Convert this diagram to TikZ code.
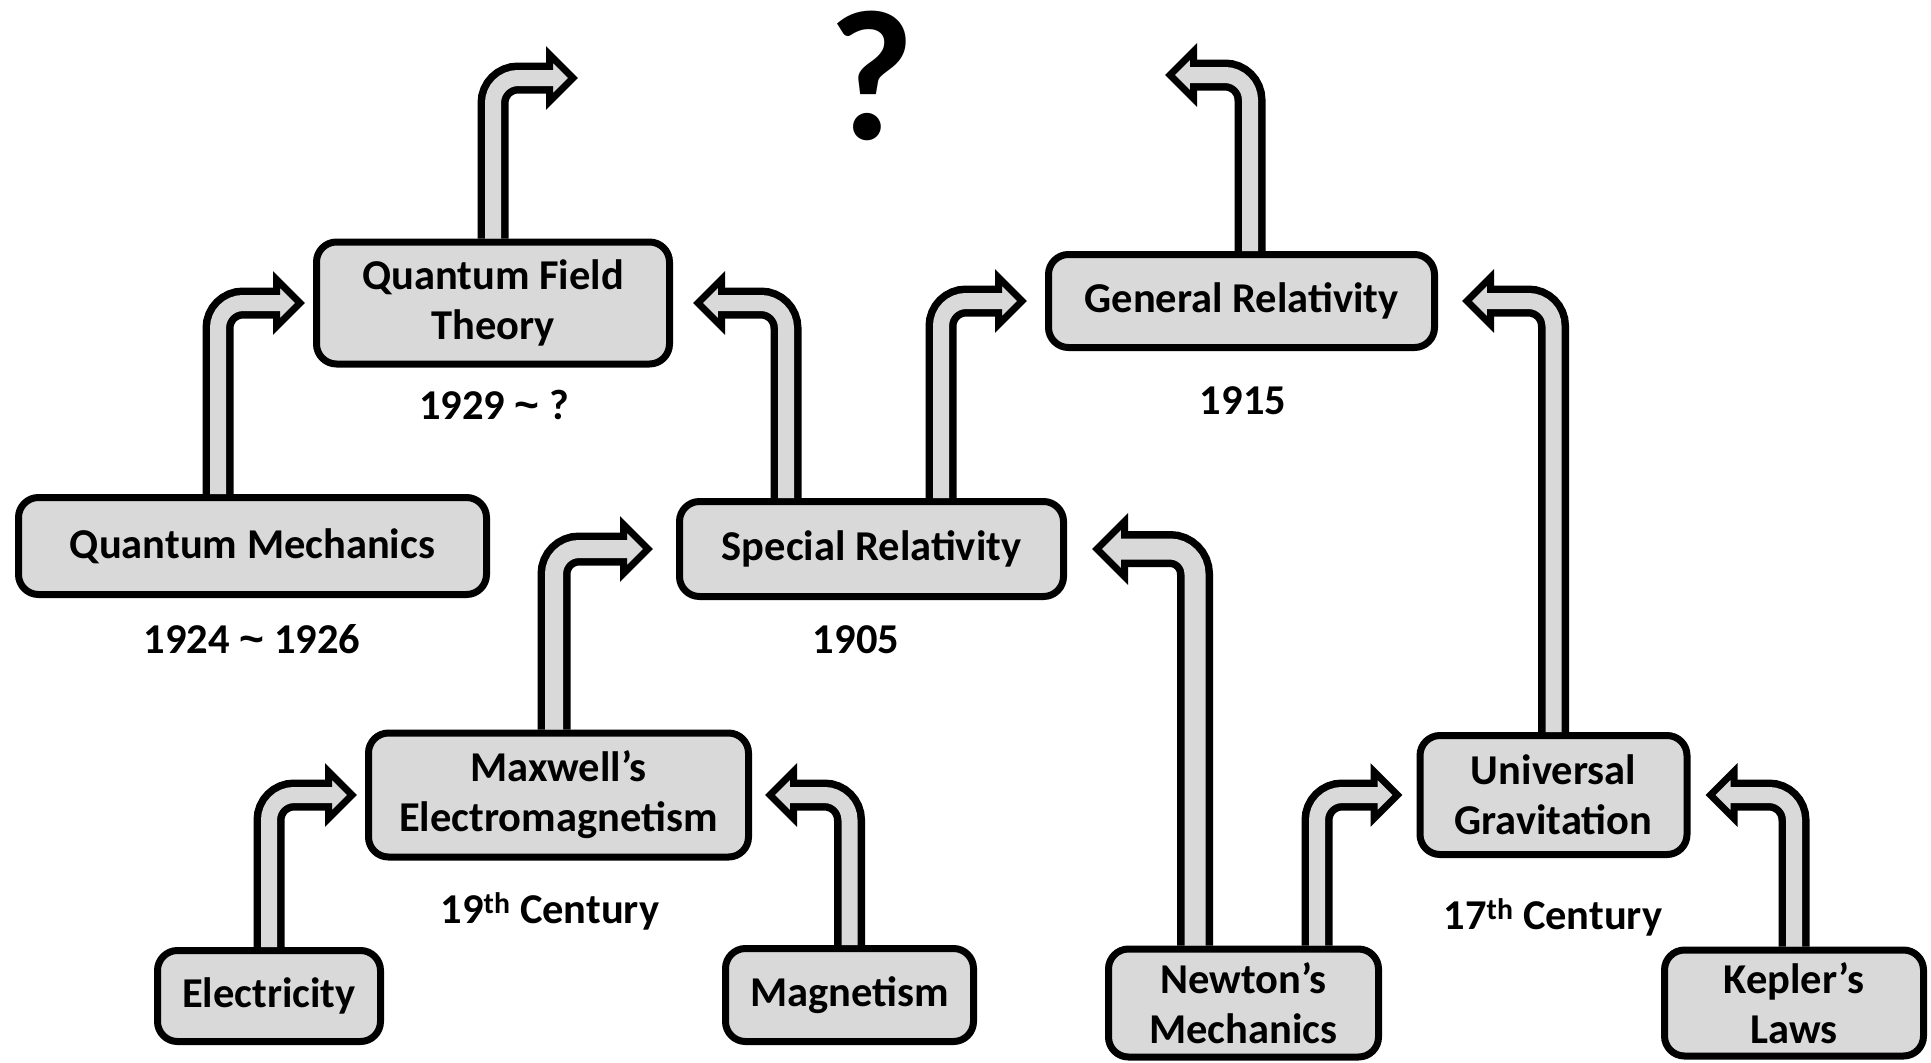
\documentclass[tikz,border=0pt]{standalone}
\usepackage{fontspec}
\setmainfont{Carlito}
\newfontfamily\tildefont{Liberation Sans}
\usetikzlibrary{calc}
\definecolor{boxgray}{HTML}{D9D9D9}
\newcommand\tld{{\tildefont\bfseries\textasciitilde}}
\tikzset{
  box/.style={draw=black, line width=7pt, fill=boxgray, rounded corners=20pt, align=center, inner sep=0pt,
    font=\bfseries\fontsize{42.5}{50}\selectfont},
  lbl/.style={font=\bfseries\fontsize{42.5}{50}\selectfont, inner sep=0pt, anchor=base},
}
% #1 direction (1 right, -1 left), #2 start, #3 tip, #4 shaft width, #5 head size
\newcommand\barrow[5]{%
  \path #3 coordinate (tipc);
  \draw[line width=#4pt, black, rounded corners=25pt] #2 |- ($(tipc)+({-(#1)*(#5-3.5)},0)$);
  \filldraw[fill=boxgray, draw=black, line width=7pt, line join=miter]
     ($(tipc)+({-(#1)*(#5-3.5)},{-(#5-8.5)})$) -- ($(tipc)+({-(#1)*5},0)$)
     -- ($(tipc)+({-(#1)*(#5-3.5)},{#5-8.5})$) -- cycle;
  \pgfmathsetmacro\gw{#4-15}%
  \draw[line width=\gw pt, boxgray, rounded corners=25pt] #2 |- ($(tipc)+({-(#1)*(#5-3.5-7)},0)$);
}
\begin{document}
\begin{tikzpicture}[x=1pt,y=-1pt]
\useasboundingbox (0,0) rectangle (1931,1063);
% boxes
\node[box, minimum width=353pt, minimum height=122pt] (QFT) at (493,303) {Quantum Field\\Theory};
\node[box, minimum width=468pt, minimum height=97pt] (QM) at (252.5,546) {Quantum Mechanics};
\node[box, minimum width=384pt, minimum height=95pt] (SR) at (871.5,549) {Special Relativity};
\node[box, minimum width=386pt, minimum height=93pt] (GR) at (1241.5,301) {General Relativity};
\node[box, minimum width=380pt, minimum height=124pt] (MX) at (558.5,795) {Maxwell’s\\Electromagnetism};
\node[box, minimum width=223pt, minimum height=91pt] (EL) at (269,996) {Electricity};
\node[box, minimum width=248pt, minimum height=93pt] (MG) at (849.5,995) {Magnetism};
\node[box, minimum width=270pt, minimum height=108pt] (NW) at (1243.5,1003) {Newton’s\\Mechanics};
\node[box, minimum width=267pt, minimum height=119pt] (UG) at (1553.5,795) {Universal\\Gravitation};
\node[box, minimum width=259pt, minimum height=106pt] (KP) at (1794,1003) {Kepler’s\\Laws};
% labels
\node[lbl] (d1) at (494,419) {1929 \tld{} ?};
\node[lbl] (d2) at (1243,414) {1915};
\node[lbl] (d3) at (252,653) {1924 \tld{} 1926};
\node[lbl] (d4) at (856,653) {1905};
\node[lbl] (d5) at (550,923) {19\textsuperscript{th} Century};
\node[lbl] (d6) at (1553,929) {17\textsuperscript{th} Century};
\node[font=\bfseries\fontsize{186}{186}\selectfont, inner sep=0pt, anchor=base,
      text height=128pt, text depth=0pt] (Q) at (872,139) {?};
% free ends
\coordinate (top1) at (578,78);
\coordinate (top2) at (1165,75);
% arrows
\barrow{1}{(QFT.north)}{(top1)}{31}{32}
\barrow{1}{(218,0 |- QM.north)}{([xshift=-8pt]QFT.west)}{31}{32}
\barrow{-1}{(786,0 |- SR.north)}{([xshift=20pt]QFT.east)}{31}{32}
\barrow{1}{(941,0 |- SR.north)}{([xshift=-18pt]GR.west)}{31}{32}
\barrow{-1}{(1250,0 |- GR.north)}{(top2)}{31}{32}
\barrow{1}{(554,0 |- MX.north)}{([xshift=-23pt]SR.west)}{33}{33}
\barrow{1}{(EL.north)}{([xshift=-8pt]MX.west)}{31}{32}
\barrow{-1}{(MG.north)}{([xshift=13pt]MX.east)}{31}{32}
\barrow{-1}{(1195,0 |- NW.north)}{([xshift=25pt]SR.east)}{36}{36}
\barrow{1}{(1317,0 |- NW.north)}{([xshift=-14pt]UG.west)}{31}{32}
\barrow{-1}{(UG.north)}{([xshift=24pt]GR.east)}{31}{32}
\barrow{-1}{(KP.north)}{([xshift=15pt]UG.east)}{31}{32}
\end{tikzpicture}
\end{document}
